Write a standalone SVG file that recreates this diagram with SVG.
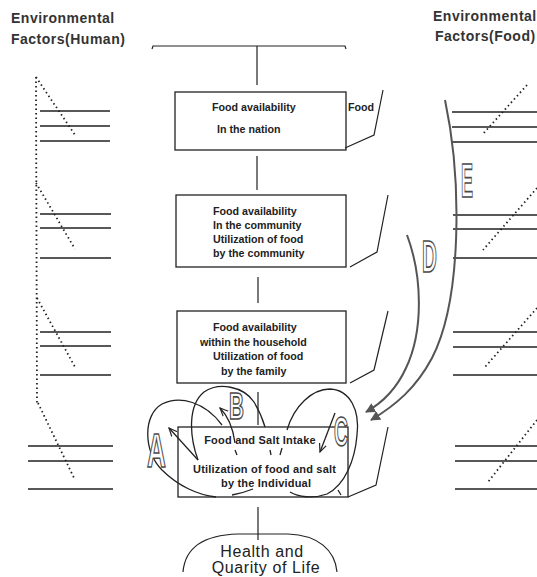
<svg xmlns="http://www.w3.org/2000/svg" width="537" height="577" viewBox="0 0 537 577">
<style>
.hdr{font-family:"Liberation Sans",Arial,sans-serif;font-weight:bold;font-size:14px;letter-spacing:0.5px;fill:#333}
.bt{font-family:"Liberation Sans",Arial,sans-serif;font-weight:bold;font-size:10.7px;fill:#222}
.bt4{font-family:"Liberation Sans",Arial,sans-serif;font-weight:bold;font-size:11px;letter-spacing:0.2px;fill:#222}
.ht{font-family:"Liberation Sans",Arial,sans-serif;font-size:16px;letter-spacing:0.6px;fill:#222}
.box{fill:#fff;stroke:#222;stroke-width:1.3}
.ln{fill:none;stroke:#222;stroke-width:1.2}
.hl{fill:none;stroke:#222;stroke-width:1.5}
.dot{fill:none;stroke:#222;stroke-width:1.8;stroke-dasharray:1.5 3}
.loop{fill:none;stroke:#222;stroke-width:1.3}
.big{font-family:"Liberation Sans",Arial,sans-serif;font-weight:bold;fill:#fff;stroke:#4a4a4a;stroke-width:1.7}
.gr{fill:none;stroke:#555;stroke-width:2}
</style>
<defs>
<marker id="fh" viewBox="0 0 10 10" refX="9" refY="5" markerWidth="5" markerHeight="5" orient="auto" markerUnits="strokeWidth">
<path d="M0,0 L10,5 L0,10 Z" fill="#555"/>
</marker>
<marker id="vh" viewBox="0 0 10 10" refX="9" refY="5" markerWidth="7" markerHeight="7" orient="auto" markerUnits="strokeWidth">
<path d="M0,1 L9,5 L0,9" fill="none" stroke="#222" stroke-width="1.3"/>
</marker>
</defs>
<rect width="537" height="577" fill="#fff"/>

<g id="env-human">
<text class="hdr" x="11" y="23">Environmental</text>
<text class="hdr" x="11" y="44">Factors(Human)</text>
<g id="human-lines">
<path class="dot" d="M36,77 L37,405"/>
<path class="dot" d="M36,77 L75,135 M36,183 L75,249 M37,298 L75,367 M38,403 L75,480"/>
<path class="hl" d="M40,111 H110 M40,126 H110 M40,141 H110"/>
<path class="hl" d="M40,214 H111 M40,228 H111 M40,258 H111"/>
<path class="hl" d="M40,332 H111 M40,346 H111 M40,375 H111"/>
<path class="hl" d="M28,446 H113 M28,461 H113 M28,489 H113"/>
</g>
</g>

<g id="env-food">
<text class="hdr" x="433" y="21">Environmental</text>
<text class="hdr" x="435" y="41">Factors(Food)</text>
<g id="food-lines">
<path class="dot" d="M527,85 L482,135 M537,188 L483,250 M537,308 L485,367 M537,420 L488,482"/>
<path class="hl" d="M452,112 H537 M452,127 H537 M452,142 H537"/>
<path class="hl" d="M453,215 H537 M453,229 H537 M453,258 H537"/>
<path class="hl" d="M453,332 H537 M453,347 H537 M453,375 H537"/>
<path class="hl" d="M455,446 H537 M455,461 H537 M455,489 H537"/>
</g>
</g>

<g id="top-bar">
<path class="ln" d="M152,49 L153,46 H345 L346,49"/>
</g>

<g id="box1">
<rect class="box" x="175" y="92" width="171" height="58"/>
<text class="bt" x="212" y="111">Food availability</text>
<text class="bt" x="217" y="133">In the nation</text>
<text class="bt" x="348" y="111">Food</text>
</g>

<g id="box2">
<rect class="box" x="176" y="195" width="170" height="72"/>
<text class="bt" x="213" y="215">Food availability</text>
<text class="bt" x="213" y="229">In the community</text>
<text class="bt" x="213" y="243">Utilization of food</text>
<text class="bt" x="213" y="257">by the community</text>
</g>

<g id="box3">
<rect class="box" x="177" y="311" width="169" height="72"/>
<text class="bt" x="213" y="331">Food availability</text>
<text class="bt" x="200" y="346">within the household</text>
<text class="bt" x="213" y="360">Utilization of food</text>
<text class="bt" x="221" y="375">by the family</text>
</g>

<g id="box4">
<rect class="box" x="178" y="427" width="170" height="70"/>
<text class="bt4" x="260" y="444" text-anchor="middle">Food and Salt Intake</text>
<text class="bt4" x="193" y="473">Utilization of food and salt</text>
<text class="bt4" x="221" y="487">by the Individual</text>
</g>

<g id="health">
<path class="ln" d="M183,572 C185,548 203,535 238,534 L288,534 C318,535 335,550 337,572"/>
<text class="ht" x="262" y="557" text-anchor="middle">Health and</text>
<text class="ht" x="266" y="573" text-anchor="middle">Quarity of Life</text>
</g>

<g id="connectors">
<path class="ln" d="M257,46 V85 M257,156 V190 M258,277 V303 M258,392 V425 M258,507 V540"/>
<path class="ln" d="M383,90 L374,135 L345,148"/>
<path class="ln" d="M388,195 L377,252 L350,267"/>
<path class="ln" d="M388,311 L374,370 L350,383"/>
<path class="ln" d="M388,427 L376,485 L348,497"/>
<g id="loops">
<path class="loop" d="M222,425 C205,402 180,395 162,404 C143,415 143,450 162,470 C178,486 198,495 216,497"/>
<path class="loop" d="M198,460 C189,435 188,405 204,392 C219,382 243,386 254,402 C260,412 263,420 265,427"/>
<path class="loop" d="M287,430 C294,406 312,389 330,389 C350,390 360,410 357,435 C355,460 345,485 327,494 C313,499 298,497 290,492"/>
<path class="loop" d="M232,495 Q243,493 253,489"/>
<path class="loop" d="M235,450 L237,455 M270,450 L271,455 M282,448 L280,455 M338,490 L341,495"/>
<path class="loop" marker-end="url(#vh)" d="M198,460 L169,428"/>
<path class="loop" marker-end="url(#vh)" d="M235,443 Q232,420 220,408"/>
<path class="loop" marker-end="url(#vh)" d="M335,413 L320,452"/>
</g>
<path class="gr" marker-end="url(#fh)" d="M407,235 C422,275 424,330 406,368 C396,390 382,403 366,412"/>
<path class="gr" marker-end="url(#fh)" d="M445,100 C462,180 462,300 432,358 C416,388 396,405 371,420"/>
</g>

<g id="labels">
<text class="big" font-size="47.5" transform="translate(147,467) scale(0.55,1)">A</text>
<text class="big" font-size="36.3" transform="translate(229,419) scale(0.57,1)">B</text>
<text class="big" font-size="41.9" transform="translate(334,446) scale(0.46,1)">C</text>
<text class="big" font-size="44.7" transform="translate(422,272) scale(0.46,1)">D</text>
<text class="big" font-size="47.5" transform="translate(461,197) scale(0.38,1)">E</text>
</g>
</svg>
